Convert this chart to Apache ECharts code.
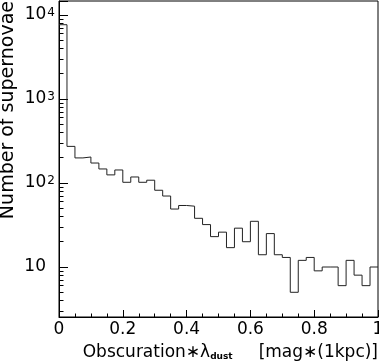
<!DOCTYPE html>
<html>
<head>
<meta charset="utf-8">
<title>supernovae obscuration</title>
<script src="https://cdn.jsdelivr.net/npm/echarts@6.0.0/dist/echarts.min.js"></script>
<style>
  html, body { margin: 0; padding: 0; background: #fff; }
  #main { width: 379px; height: 363px; }
</style>
</head>
<body>
<div id="main"></div>
<script type="text/javascript">
// 40 bins of width 0.025 between 0 and 1
var binWidth = 0.025;
var counts = [7670, 273, 199, 204, 173, 147, 125, 143, 102, 118,
              102, 108, 82, 70, 49, 54, 53, 38, 32, 23,
              26, 17, 29, 20, 35, 14, 25, 14, 13, 5,
              12, 13, 9, 10, 10, 6, 12, 8, 6, 10];
var minorTicks = [3, 4, 5, 6, 7, 8, 9,
                  20, 30, 40, 50, 60, 70, 80, 90,
                  200, 300, 400, 500, 600, 700, 800, 900,
                  2000, 3000, 4000, 5000, 6000, 7000, 8000, 9000];
var yMin = 2.54, yMax = 14690;

// step line: one point on each bin's lower edge, plus the last upper edge
var stepData = counts.map(function (c, i) { return [i * binWidth, c]; });
stepData.push([counts.length * binWidth, counts[counts.length - 1]]);

var chart = echarts.init(document.getElementById('main'));
var font = 'DejaVu Sans';

chart.setOption({
    animation: false,
    backgroundColor: '#fff',
    grid: {
        left: 59, right: 1, top: 1, bottom: 46,
        show: true, borderColor: '#000', borderWidth: 1,
        outerBoundsMode: 'none'
    },
    xAxis: {
        type: 'value',
        min: 0, max: 1, interval: 0.2,
        axisLine: { lineStyle: { color: '#000', width: 1 } },
        axisTick: { inside: true, length: 7, lineStyle: { color: '#000' } },
        minorTick: { show: true, splitNumber: 4, length: 3.5, lineStyle: { color: '#000' } },
        splitLine: { show: false },
        axisLabel: { color: '#000', fontFamily: font, fontSize: 17, margin: 4 },
        name: '{n|Obscuration∗λ}{d|dust}{g|}{n|[mag∗(1kpc)]}',
        nameLocation: 'end',
        nameGap: 0,
        nameTextStyle: {
            align: 'right',
            verticalAlign: 'top',
            padding: [24, 0, 0, 0],
            rich: {
                n: { fontFamily: font, fontSize: 17, color: '#000', lineHeight: 20, verticalAlign: 'bottom' },
                d: { fontFamily: font, fontSize: 9, fontWeight: 'bold', color: '#000', lineHeight: 14, verticalAlign: 'bottom' },
                g: { width: 26 }
            }
        }
    },
    yAxis: [{
        type: 'log',
        min: yMin, max: yMax,
        position: 'left',
        axisLine: { lineStyle: { color: '#000', width: 1 } },
        axisTick: { inside: true, length: 9, lineStyle: { color: '#000' } },
        splitLine: { show: false },
        axisLabel: {
            margin: 4,
            formatter: function (v) {
                var e = Math.round(Math.log10(v));
                if (Math.abs(Math.pow(10, e) - v) > 1e-6 * v) return '';
                if (e === 1) return '{t|10}';
                return '{b|10}{s|' + e + '}';
            },
            rich: {
                t: { fontFamily: font, fontSize: 17, color: '#000', padding: [0, 9, 0, 0] },
                b: { fontFamily: font, fontSize: 17, color: '#000', lineHeight: 17, padding: [8, 0, 0, 0], verticalAlign: 'bottom' },
                s: { fontFamily: font, fontSize: 12, color: '#000', lineHeight: 12, padding: [0, 0, 0, 1], verticalAlign: 'top' }
            }
        },
        name: 'Number of supernovae',
        nameLocation: 'end',
        nameRotate: 90,
        nameGap: 0,
        nameTextStyle: {
            fontFamily: font, fontSize: 19, color: '#000',
            align: 'right', verticalAlign: 'bottom',
            padding: [0, 0, 41, 0]
        }
    }, {
        // minor ticks 2..9 per decade, same log scale, no line or labels
        type: 'log',
        min: yMin, max: yMax,
        position: 'left',
        axisLine: { show: false },
        axisTick: { show: true, inside: true, length: 4.5, customValues: minorTicks, lineStyle: { color: '#000' } },
        axisLabel: { show: false },
        splitLine: { show: false }
    }],
    series: [{
        type: 'line',
        yAxisIndex: 0,
        step: 'end',
        symbol: 'none',
        data: stepData,
        lineStyle: { color: '#222', width: 1 }
    }]
});
</script>
</body>
</html>
